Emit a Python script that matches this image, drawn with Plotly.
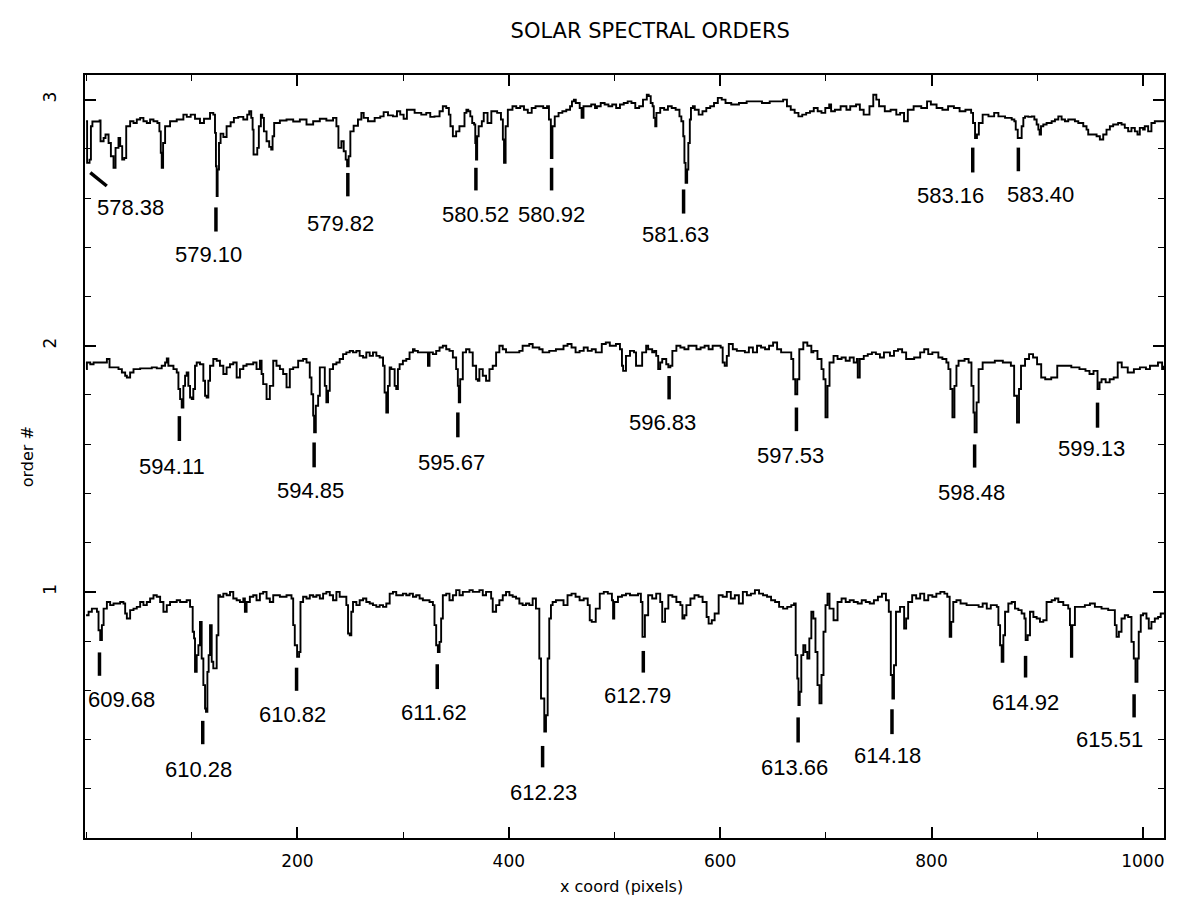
import plotly.graph_objects as go

# Extracted intensity profiles of three echelle orders: (x pixel, order + normalised flux)
order3 = [
    (0, 2.912), (1, 2.743), (3.3, 2.756), (4.6, 2.892), (6, 2.911), (12.8, 2.915), (13.7, 2.831),
    (16.6, 2.844), (18.4, 2.858), (21.3, 2.824), (23.5, 2.770), (26, 2.723), (27.9, 2.804),
    (30.7, 2.844), (32.3, 2.811), (34.2, 2.756), (36.1, 2.763), (38, 2.892), (41.7, 2.912),
    (44.9, 2.905), (48, 2.919), (51.2, 2.926), (54.3, 2.912), (57.5, 2.905), (60.6, 2.919),
    (63.8, 2.912), (67.5, 2.905), (69.4, 2.871), (70.7, 2.784), (71.6, 2.723), (72.9, 2.824),
    (74.8, 2.892), (79.5, 2.912), (85.8, 2.919), (92.1, 2.939), (95.3, 2.930), (99, 2.939),
    (103.1, 2.922), (107.8, 2.905), (111.6, 2.922), (117.3, 2.946), (120.4, 2.939), (122, 2.865),
    (122.9, 2.729), (123.6, 2.608), (124.5, 2.716), (125.8, 2.824), (127.3, 2.862), (129.9, 2.848),
    (133, 2.892), (136.8, 2.908), (139.9, 2.926), (144, 2.930), (148.8, 2.919), (152.5, 2.939),
    (154.4, 2.953), (156.3, 2.926), (157.6, 2.878), (158.5, 2.777), (160.7, 2.777), (162, 2.804),
    (163.5, 2.892), (165.4, 2.939), (166.7, 2.926), (168.3, 2.871), (170.8, 2.831), (173.3, 2.808),
    (175.2, 2.797), (176.5, 2.851), (178, 2.905), (183.4, 2.915), (189.7, 2.919), (196, 2.911),
    (202.3, 2.919), (208.6, 2.899), (214.9, 2.912), (221.2, 2.922), (227.4, 2.915), (233.7, 2.926),
    (236.9, 2.892), (238.8, 2.804), (241.6, 2.831), (243.8, 2.790), (245.7, 2.756), (247, 2.729),
    (248.5, 2.770), (250.1, 2.871), (253.2, 2.894), (257.3, 2.919), (260.5, 2.946), (262.7, 2.926),
    (266.8, 2.912), (273.1, 2.926), (278.4, 2.932), (281.6, 2.949), (285.7, 2.936), (290.4, 2.932),
    (294.2, 2.953), (297.3, 2.939), (300.5, 2.922), (303.6, 2.959), (307.7, 2.959), (310.9, 2.946),
    (317.2, 2.939), (321.9, 2.946), (325.7, 2.930), (329.7, 2.932), (334.5, 2.953), (337.6, 2.973),
    (340.8, 2.966), (343.3, 2.939), (344.8, 2.892), (347.1, 2.851), (350.2, 2.871), (353.3, 2.892),
    (356.3, 2.892), (358.1, 2.946), (359.9, 2.959), (361.7, 2.953), (363.6, 2.932), (365.4, 2.905),
    (367.2, 2.899), (368.3, 2.824), (369.0, 2.756), (370.1, 2.851), (371.5, 2.892), (374.5, 2.912),
    (376.3, 2.946), (379.9, 2.905), (383.5, 2.953), (387.2, 2.953), (389.0, 2.946), (392.6, 2.919),
    (394.4, 2.838), (395.5, 2.743), (397.0, 2.892), (399.1, 2.959), (403.5, 2.973), (407.1, 2.966),
    (410.8, 2.973), (414.4, 2.959), (418.0, 2.946), (421.7, 2.966), (425.3, 2.973), (428.9, 2.973),
    (432.6, 2.966), (436.2, 2.973), (438.0, 2.919), (439.8, 2.763), (441.3, 2.892), (443.5, 2.932),
    (447.1, 2.946), (450.7, 2.953), (454.4, 2.959), (458.0, 2.973), (459.8, 2.993), (461.6, 3.000),
    (463.4, 2.986), (467.1, 2.966), (468.9, 2.926), (470.7, 2.973), (472.5, 2.973), (478.0, 2.980),
    (481.6, 2.966), (483.4, 2.973), (487.0, 2.986), (490.7, 2.980), (494.3, 2.973), (497.9, 2.980),
    (501.6, 2.966), (505.2, 2.980), (508.8, 2.986), (512.5, 2.993), (516.1, 2.986), (519.7, 2.966),
    (523.4, 2.973), (527.0, 3.000), (530.6, 3.020), (532.4, 3.014), (534.3, 2.986), (536.1, 2.973),
    (537.2, 2.926), (538.6, 2.892), (539.7, 2.946), (543.3, 2.966), (547.0, 2.959), (550.6, 2.973),
    (554.2, 2.966), (557.9, 2.959), (561.5, 2.932), (563.3, 2.912), (565.1, 2.851), (566.2, 2.743),
    (567.3, 2.662), (568.8, 2.716), (569.9, 2.824), (571.3, 2.919), (572.4, 2.966), (574.2, 2.973),
    (576.0, 2.959), (579.7, 2.939), (583.3, 2.953), (586.9, 2.966), (590.6, 2.973), (594.2, 2.986),
    (597.8, 3.007), (601.5, 3.000), (605.1, 2.986), (610.5, 2.980), (617.8, 2.986), (625.1, 2.993),
    (632.3, 2.993), (639.6, 2.986), (646.9, 2.993), (654.1, 2.993), (659.6, 3.000), (663.2, 2.973),
    (666.8, 2.959), (670.5, 2.946), (674.1, 2.932), (677.7, 2.939), (681.4, 2.946), (685.0, 2.953),
    (688.6, 2.966), (692.3, 2.953), (695.9, 2.946), (699.5, 2.966), (703.2, 2.980), (705.0, 2.953),
    (708.6, 2.959), (714.0, 2.973), (719.5, 2.959), (723.1, 2.973), (728.6, 2.980), (732.2, 2.959),
    (735.8, 2.939), (741.3, 2.973), (744.9, 3.020), (747.8, 3.000), (750.4, 2.973), (755.8, 2.953),
    (761.3, 2.959), (766.7, 2.939), (770.3, 2.946), (774.0, 2.912), (777.6, 2.959), (783.1, 2.973),
    (790.3, 2.966), (795.8, 2.993), (799.4, 2.980), (804.8, 2.966), (810.3, 2.959), (815.7, 2.973),
    (821.2, 2.966), (826.6, 2.953), (832.1, 2.959), (837.5, 2.946), (839.3, 2.905), (841.2, 2.844),
    (843.0, 2.858), (844.8, 2.905), (848.4, 2.939), (853.9, 2.932), (859.3, 2.946), (863.3, 2.932),
    (869.6, 2.926), (875.9, 2.919), (878.4, 2.912), (879.7, 2.878), (881.6, 2.844), (883.8, 2.844),
    (885.3, 2.892), (886.9, 2.926), (888.5, 2.932), (891.6, 2.930), (894.8, 2.932), (897.3, 2.919),
    (899.5, 2.899), (901.1, 2.878), (902.3, 2.858), (903.6, 2.892), (905.8, 2.899), (908.9, 2.905),
    (913.7, 2.912), (916.8, 2.919), (920.0, 2.932), (923.1, 2.919), (926.3, 2.912), (929.4, 2.919),
    (932.6, 2.919), (935.7, 2.912), (938.9, 2.905), (943.6, 2.892), (946.7, 2.878), (948.3, 2.858),
    (951.4, 2.858), (956.2, 2.851), (959.3, 2.838), (962.5, 2.858), (965.6, 2.878), (968.8, 2.892),
    (971.9, 2.899), (976.6, 2.905), (979.8, 2.899), (982.9, 2.885), (986.1, 2.871), (989.2, 2.885),
    (992.4, 2.871), (994.9, 2.858), (997.1, 2.885), (1000.2, 2.878), (1001.8, 2.892), (1005.0, 2.871),
    (1008.1, 2.905), (1011.3, 2.912), (1014.4, 2.912), (1020, 2.915),
]

order2 = [
    (0, 1.905), (0.8, 1.932), (4.0, 1.925), (7.1, 1.932), (11.8, 1.932), (16.6, 1.932), (19.7, 1.946),
    (22.2, 1.912), (26.0, 1.912), (30.7, 1.905), (33.9, 1.891), (37.0, 1.878), (38.6, 1.871),
    (41.7, 1.891), (44.9, 1.905), (51.2, 1.908), (57.5, 1.908), (62.2, 1.912), (66.9, 1.908),
    (71.6, 1.919), (74.8, 1.932), (76.4, 1.948), (77.9, 1.919), (82.7, 1.905), (85.8, 1.891),
    (87.4, 1.824), (89.0, 1.783), (90.5, 1.749), (92.1, 1.837), (93.7, 1.878), (95.2, 1.891),
    (96.8, 1.837), (98.4, 1.790), (100.0, 1.783), (101.5, 1.824), (103.1, 1.919), (104.7, 1.932),
    (107.8, 1.925), (111.0, 1.858), (112.6, 1.797), (114.1, 1.790), (115.7, 1.858), (117.3, 1.919),
    (120.4, 1.946), (123.6, 1.939), (126.7, 1.919), (129.9, 1.885), (133.0, 1.912), (136.2, 1.925),
    (139.3, 1.932), (142.5, 1.871), (145.6, 1.905), (148.8, 1.919), (151.9, 1.925), (155.0, 1.925),
    (158.2, 1.932), (161.3, 1.905), (164.5, 1.939), (166.1, 1.885), (167.6, 1.844), (170.8, 1.783),
    (173.9, 1.837), (177.1, 1.939), (180.2, 1.919), (183.4, 1.905), (186.5, 1.885), (189.7, 1.831),
    (192.8, 1.905), (196.0, 1.912), (200.7, 1.939), (205.4, 1.946), (208.6, 1.932), (211.7, 1.871),
    (213.3, 1.803), (214.9, 1.716), (215.8, 1.648), (217.4, 1.756), (219.6, 1.797), (221.2, 1.912),
    (224.3, 1.912), (225.9, 1.837), (227.4, 1.770), (229.0, 1.817), (230.6, 1.905), (233.7, 1.925),
    (236.9, 1.932), (240.0, 1.946), (243.2, 1.966), (246.3, 1.973), (249.5, 1.979), (252.6, 1.973),
    (255.8, 1.979), (258.9, 1.959), (262.1, 1.952), (265.2, 1.973), (268.4, 1.959), (271.5, 1.973),
    (274.7, 1.959), (277.8, 1.952), (281.0, 1.919), (282.5, 1.810), (284.1, 1.729), (285.7, 1.837),
    (287.3, 1.912), (288.8, 1.905), (292.0, 1.837), (293.5, 1.824), (295.1, 1.905), (296.7, 1.925),
    (299.8, 1.939), (303.0, 1.946), (306.1, 1.973), (309.3, 1.986), (310.9, 1.979), (314.0, 1.973),
    (321.9, 1.973), (323.5, 1.919), (325.0, 1.973), (328.2, 1.966), (331.3, 1.979), (334.5, 1.993),
    (337.6, 2.000), (340.8, 1.986), (343.9, 1.979), (347.1, 1.952), (350.2, 1.905), (351.8, 1.837),
    (352.7, 1.770), (354.0, 1.864), (356.5, 1.973), (359.6, 1.986), (362.8, 1.973), (365.9, 1.919),
    (369.1, 1.864), (370.7, 1.858), (372.2, 1.905), (375.4, 1.878), (378.5, 1.858), (381.7, 1.905),
    (384.8, 1.919), (388.0, 1.973), (391.1, 2.000), (394.3, 1.986), (397.4, 1.973), (403.7, 1.973),
    (410.0, 1.979), (413.1, 2.000), (419.4, 2.007), (422.6, 1.993), (428.9, 1.986), (432.0, 1.973),
    (438.3, 1.979), (444.6, 1.986), (451.8, 2.000), (455.6, 2.007), (459.4, 1.993), (463.2, 1.973),
    (467.0, 1.979), (470.9, 1.993), (474.7, 1.979), (478.5, 1.986), (482.3, 1.973), (488.0, 2.007),
    (491.8, 2.013), (495.6, 2.000), (501.4, 2.007), (505.2, 1.986), (507.1, 1.919), (508.2, 1.898),
    (510.9, 1.959), (514.7, 1.979), (518.5, 1.973), (520.4, 1.919), (524.3, 1.919), (526.2, 1.973),
    (530.0, 2.000), (531.9, 1.986), (535.7, 1.973), (537.6, 1.979), (539.5, 1.959), (541.4, 1.905),
    (543.3, 1.932), (545.2, 1.946), (549.0, 1.925), (551.0, 1.912), (552.9, 1.919), (554.8, 1.979),
    (558.6, 2.000), (562.4, 1.993), (566.2, 1.986), (570.0, 2.000), (577.6, 1.986), (581.5, 1.993),
    (585.3, 2.000), (589.1, 1.986), (592.9, 2.000), (600.5, 1.993), (602.4, 1.932), (604.3, 1.919),
    (606.3, 1.959), (608.2, 2.007), (612.0, 1.986), (615.8, 1.979), (623.4, 1.973), (627.2, 1.993),
    (631.0, 1.973), (634.9, 2.000), (638.7, 1.993), (642.5, 1.986), (646.3, 2.000), (650.1, 2.013),
    (653.9, 1.986), (657.7, 1.973), (665.4, 1.973), (667.3, 1.946), (669.2, 1.864), (671.1, 1.803),
    (673.0, 1.864), (674.9, 1.986), (678.7, 2.013), (682.5, 2.000), (686.3, 1.973), (688.2, 1.979),
    (692.1, 1.946), (695.9, 1.905), (697.8, 1.864), (699.7, 1.709), (701.6, 1.837), (703.5, 1.932),
    (707.3, 1.959), (711.1, 1.946), (714.9, 1.952), (718.8, 1.939), (722.6, 1.952), (726.4, 1.932),
    (729.4, 1.946), (730.2, 1.871), (732.1, 1.946), (735.9, 1.959), (739.7, 1.966), (743.6, 1.973),
    (747.4, 1.966), (751.2, 1.952), (755.0, 1.973), (760.7, 1.959), (764.5, 1.979), (768.3, 1.986),
    (772.2, 1.973), (776.0, 1.946), (783.6, 1.952), (789.3, 1.973), (793.1, 1.986), (796.9, 1.966),
    (800.8, 1.973), (806.5, 1.952), (810.3, 1.946), (814.1, 1.932), (816.0, 1.905), (817.9, 1.824),
    (819.8, 1.709), (821.7, 1.837), (823.6, 1.919), (825.6, 1.939), (831.3, 1.946), (835.1, 1.932),
    (837.8, 1.837), (839.7, 1.729), (840.8, 1.648), (842.7, 1.770), (844.6, 1.905), (848.4, 1.932),
    (859.9, 1.939), (867.5, 1.932), (875.1, 1.919), (878.2, 1.797), (880.9, 1.688), (882.8, 1.824),
    (884.7, 1.919), (888.5, 1.946), (892.3, 1.966), (896.1, 1.952), (899.9, 1.925), (903.8, 1.871),
    (907.6, 1.864), (913.3, 1.871), (919.0, 1.919), (932.3, 1.912), (940.0, 1.905), (945.7, 1.898),
    (949.5, 1.885), (953.3, 1.898), (957.1, 1.824), (959.0, 1.851), (960.9, 1.864), (964.8, 1.851),
    (968.6, 1.864), (972.4, 1.871), (976.2, 1.932), (980.0, 1.912), (985.7, 1.891), (991.5, 1.905),
    (997.2, 1.912), (1002.9, 1.905), (1006.7, 1.919), (1014.3, 1.932), (1018.2, 1.905), (1020, 1.919),
]

order1 = [
    (0, 0.905), (2.4, 0.919), (5.5, 0.932), (10.3, 0.919), (11.8, 0.844), (13.4, 0.804), (15.0, 0.865),
    (16.6, 0.932), (19.7, 0.959), (22.8, 0.946), (26.0, 0.953), (32.3, 0.959), (35.4, 0.953),
    (37.0, 0.912), (38.6, 0.892), (41.7, 0.926), (44.9, 0.932), (48.0, 0.939), (51.2, 0.959),
    (54.3, 0.946), (57.5, 0.959), (60.6, 0.973), (63.8, 0.986), (66.9, 0.980), (70.1, 0.959),
    (73.2, 0.919), (76.4, 0.946), (79.5, 0.959), (85.8, 0.966), (89.0, 0.959), (95.2, 0.966),
    (98.4, 0.939), (100.9, 0.838), (102.2, 0.811), (103.1, 0.675), (104.7, 0.743), (106.3, 0.783),
    (107.8, 0.878), (109.4, 0.729), (111.0, 0.621), (112.6, 0.526), (113.5, 0.513), (114.8, 0.675),
    (116.0, 0.743), (117.3, 0.865), (118.9, 0.716), (120.4, 0.689), (122.0, 0.689), (123.6, 0.824),
    (125.2, 0.986), (126.7, 0.980), (129.9, 0.993), (133.0, 0.986), (136.2, 1.000), (139.3, 0.973),
    (142.5, 0.966), (145.6, 0.959), (148.8, 0.973), (150.3, 0.919), (151.9, 0.959), (155.0, 0.980),
    (158.2, 0.986), (161.3, 0.966), (164.5, 0.993), (167.6, 1.000), (170.8, 0.973), (173.9, 0.959),
    (177.1, 0.986), (183.4, 0.980), (189.7, 0.986), (194.4, 0.973), (196.0, 0.865), (197.5, 0.783),
    (199.7, 0.736), (201.6, 0.756), (202.9, 0.959), (205.4, 0.980), (208.6, 0.973), (211.7, 0.986),
    (214.9, 0.980), (218.0, 0.986), (221.2, 0.973), (224.3, 0.993), (227.4, 1.000), (230.6, 0.986),
    (233.7, 0.966), (236.9, 1.000), (240.0, 0.980), (246.3, 0.946), (247.9, 0.831), (249.5, 0.824),
    (251.0, 0.919), (252.6, 0.959), (255.8, 0.946), (258.9, 0.966), (262.1, 0.973), (265.2, 0.959),
    (268.4, 0.953), (271.5, 0.946), (274.7, 0.939), (277.8, 0.946), (281.0, 0.939), (284.1, 0.953),
    (287.3, 0.993), (290.4, 1.000), (293.5, 0.986), (299.8, 0.993), (303.0, 0.986), (306.1, 0.993),
    (309.3, 0.980), (312.4, 0.986), (315.6, 0.973), (318.7, 0.966), (325.0, 0.959), (328.2, 0.946),
    (329.7, 0.865), (331.3, 0.783), (332.9, 0.756), (334.5, 0.797), (336.0, 0.892), (337.6, 0.986),
    (340.8, 0.993), (343.9, 0.966), (347.1, 0.986), (350.2, 1.007), (353.4, 0.986), (356.5, 1.000),
    (362.8, 1.007), (365.9, 1.000), (372.2, 1.007), (375.4, 0.986), (378.5, 1.000), (383.3, 0.973),
    (384.8, 0.919), (388.0, 0.946), (391.1, 0.966), (394.3, 0.986), (397.4, 1.000), (400.6, 0.986),
    (403.7, 0.980), (406.9, 0.973), (410.0, 0.953), (413.1, 0.946), (416.3, 0.953), (419.4, 0.946),
    (422.6, 0.973), (425.7, 0.932), (428.9, 0.729), (430.5, 0.567), (433.6, 0.432), (435.2, 0.499),
    (436.8, 0.729), (438.3, 0.892), (439.9, 0.946), (441.5, 0.959), (444.6, 0.966), (451.8, 0.946),
    (455.6, 0.986), (459.4, 0.993), (463.2, 0.980), (467.0, 0.966), (470.9, 0.973), (474.7, 0.946),
    (476.6, 0.885), (478.5, 0.878), (482.3, 0.932), (486.1, 0.993), (489.9, 1.000), (493.7, 0.993),
    (497.6, 0.966), (498.7, 0.892), (499.8, 0.959), (503.3, 0.980), (507.1, 0.986), (510.9, 0.993),
    (514.7, 0.986), (522.3, 0.993), (525.0, 0.959), (526.5, 0.817), (528.8, 0.905), (531.9, 0.986),
    (535.7, 0.973), (539.5, 0.993), (543.3, 0.959), (545.2, 0.878), (547.9, 0.932), (551.0, 0.986),
    (554.8, 0.980), (558.6, 0.959), (562.4, 0.946), (564.3, 0.892), (566.2, 0.905), (568.1, 0.946),
    (571.9, 0.973), (575.7, 0.986), (579.6, 0.980), (583.4, 0.959), (587.2, 0.898), (589.1, 0.871),
    (592.1, 0.885), (594.8, 0.912), (598.6, 0.986), (602.4, 0.980), (606.3, 1.000), (610.1, 0.973),
    (613.9, 0.986), (617.7, 0.953), (621.5, 1.000), (625.3, 0.986), (629.1, 0.993), (632.9, 1.007),
    (636.8, 0.993), (640.6, 0.986), (644.4, 0.980), (648.2, 0.966), (652.0, 0.959), (655.8, 0.939),
    (659.6, 0.932), (663.5, 0.939), (667.3, 0.946), (669.9, 0.953), (671.5, 0.743), (673.0, 0.648),
    (674.1, 0.540), (675.3, 0.594), (676.8, 0.743), (678.7, 0.783), (680.6, 0.756), (682.5, 0.729),
    (684.4, 0.811), (686.3, 0.919), (688.2, 0.892), (690.2, 0.756), (692.1, 0.621), (694.0, 0.547),
    (695.9, 0.662), (697.8, 0.838), (699.7, 0.946), (701.6, 0.993), (703.5, 0.932), (707.3, 0.885),
    (711.1, 0.959), (714.9, 0.973), (718.8, 0.959), (722.6, 0.966), (726.4, 0.959), (730.2, 0.953),
    (734.0, 0.966), (737.8, 0.959), (741.6, 0.953), (745.5, 0.966), (749.3, 0.980), (753.1, 0.993),
    (756.9, 0.966), (759.6, 0.919), (761.5, 0.662), (763.0, 0.567), (764.5, 0.702), (766.4, 0.919),
    (770.2, 0.939), (774.1, 0.851), (776.0, 0.892), (777.9, 0.959), (781.7, 0.986), (785.5, 0.973),
    (789.3, 0.993), (793.1, 0.966), (796.9, 0.986), (800.8, 0.980), (804.6, 0.993), (808.4, 1.000),
    (812.2, 0.993), (814.9, 0.980), (817.2, 0.817), (818.7, 0.878), (820.6, 0.959), (823.6, 0.966),
    (827.5, 0.953), (833.2, 0.946), (844.6, 0.939), (848.4, 0.953), (852.3, 0.932), (856.1, 0.946),
    (861.8, 0.939), (863.3, 0.865), (864.9, 0.783), (866.4, 0.716), (868.0, 0.824), (869.6, 0.919),
    (872.7, 0.953), (875.9, 0.959), (879.0, 0.932), (882.2, 0.926), (885.3, 0.912), (887.9, 0.892),
    (889.1, 0.804), (891.0, 0.824), (893.2, 0.919), (896.4, 0.898), (899.5, 0.892), (902.6, 0.878),
    (905.8, 0.885), (908.9, 0.959), (913.7, 0.966), (916.8, 0.973), (920.0, 0.959), (924.7, 0.946),
    (929.4, 0.932), (931.0, 0.865), (931.9, 0.736), (933.2, 0.865), (935.7, 0.939), (945.1, 0.946),
    (949.9, 0.953), (954.6, 0.939), (960.9, 0.932), (967.2, 0.926), (971.9, 0.926), (973.5, 0.865),
    (975.1, 0.817), (977.3, 0.838), (979.8, 0.892), (982.9, 0.905), (986.1, 0.898), (989.2, 0.797),
    (991.4, 0.729), (993.0, 0.635), (994.9, 0.729), (996.1, 0.838), (998.0, 0.905), (1000.2, 0.912),
    (1003.4, 0.892), (1005.6, 0.851), (1008.1, 0.878), (1011.3, 0.892), (1014.4, 0.898),
    (1016.9, 0.912), (1020, 0.912),
]

# Identified lines: wavelength (nm), marker x ends, marker y ends, text anchor (x, y)
line_names = [
    "578.38", "579.10", "579.82", "580.52", "580.92", "581.63", "583.16", "583.40",
    "594.11", "594.85", "595.67", "596.83", "597.53", "598.48", "599.13",
    "609.68", "610.28", "610.82", "611.62", "612.23", "612.79", "613.66", "614.18", "614.92", "615.51",
]
marker_x0 = [4.0, 122.9, 247.7, 368.9, 440.5, 565.4, 839.0, 882.2,
             88.3, 215.8, 351.8, 551.7, 672.2, 840.8, 957.1,
             12.7, 110.4, 199.2, 332.3, 432.0, 527.3, 673.8, 762.6, 889.0, 991.7]
marker_x1 = [19.6, 122.9, 247.7, 368.9, 440.5, 565.4, 839.0, 882.2,
             88.3, 215.8, 351.8, 551.7, 672.2, 840.8, 957.1,
             12.7, 110.4, 199.2, 332.3, 432.0, 527.3, 673.8, 762.6, 889.0, 991.7]
marker_y0 = [2.703, 2.562, 2.702, 2.723, 2.723, 2.635, 2.805, 2.805,
             1.714, 1.607, 1.729, 1.877, 1.749, 1.599, 1.769,
             0.754, 0.476, 0.692, 0.706, 0.374, 0.760, 0.490, 0.523, 0.740, 0.584]
marker_y1 = [2.649, 2.464, 2.607, 2.631, 2.631, 2.537, 2.704, 2.709,
             1.613, 1.506, 1.628, 1.782, 1.653, 1.505, 1.667,
             0.659, 0.381, 0.598, 0.605, 0.287, 0.672, 0.388, 0.422, 0.652, 0.490]
name_x = [41.7, 116.3, 240.8, 368.5, 440.0, 557.8, 818.4, 903.4,
          81.1, 212.5, 345.5, 545.0, 666.3, 837.8, 951.4,
          33.9, 106.2, 195.2, 328.8, 432.7, 521.4, 670.0, 758.8, 888.5, 968.7]
name_y = [2.562, 2.370, 2.498, 2.533, 2.533, 2.450, 2.612, 2.614,
          1.508, 1.410, 1.526, 1.687, 1.555, 1.403, 1.583,
          0.564, 0.280, 0.503, 0.510, 0.186, 0.577, 0.287, 0.334, 0.551, 0.402]

fig = go.Figure()

for profile in (order3, order2, order1):
    xs, ys = zip(*profile)
    fig.add_trace(go.Scatter(
        x=xs, y=ys, mode="lines",
        line=dict(color="black", width=1.9, shape="hv"),
        hoverinfo="skip", showlegend=False,
    ))

mx, my = [], []
for x0, x1, y0, y1 in zip(marker_x0, marker_x1, marker_y0, marker_y1):
    mx += [x0, x1, None]
    my += [y0, y1, None]
fig.add_trace(go.Scatter(
    x=mx, y=my, mode="lines",
    line=dict(color="black", width=3.5),
    hoverinfo="skip", showlegend=False,
))

label_font = dict(family="Liberation Sans, Arial, sans-serif", size=22, color="black")
for name, tx, ty in zip(line_names, name_x, name_y):
    fig.add_annotation(x=tx, y=ty, text=name, showarrow=False,
                       xanchor="center", yanchor="middle", font=label_font)

tick_font = dict(family="DejaVu Sans, sans-serif", size=17, color="black")
axis_font = dict(family="DejaVu Sans, sans-serif", size=16, color="black")

fig.add_annotation(xref="paper", yref="paper", x=0.497, y=-0.064,
                   text="x coord (pixels)", showarrow=False,
                   xanchor="center", yanchor="middle", font=axis_font)
fig.add_annotation(xref="paper", yref="paper", x=-0.053, y=0.5,
                   text="order #", showarrow=False, textangle=-90,
                   xanchor="center", yanchor="middle", font=axis_font)

fig.update_layout(
    width=1178, height=921,
    margin=dict(l=85, r=14, t=75, b=83),
    paper_bgcolor="white", plot_bgcolor="white",
    title=dict(text="SOLAR SPECTRAL ORDERS", x=0.552, xanchor="center",
               y=1 - 31 / 921, yanchor="middle",
               font=dict(family="DejaVu Sans, sans-serif", size=21, color="black")),
    showlegend=False,
)

fig.update_xaxes(
    range=[-1, 1020], showgrid=False, zeroline=False,
    showline=True, linecolor="black", linewidth=2, mirror="ticks",
    ticks="inside", ticklen=11, tickwidth=1.5, tickcolor="black",
    tickmode="array", tickvals=[200, 400, 600, 800, 1000],
    minor=dict(tickmode="linear", tick0=0, dtick=100, ticks="inside",
               ticklen=6, tickwidth=1.2, tickcolor="black"),
    tickfont=tick_font, ticklabelstandoff=7,
)
fig.update_yaxes(
    range=[0, 3.1], showgrid=False, zeroline=False,
    showline=True, linecolor="black", linewidth=2, mirror="ticks",
    ticks="inside", ticklen=11, tickwidth=1.5, tickcolor="black",
    tickmode="array", tickvals=[1, 2, 3], tickangle=-90,
    minor=dict(tickmode="linear", tick0=0, dtick=0.2, ticks="inside",
               ticklen=6, tickwidth=1.2, tickcolor="black"),
    tickfont=tick_font, ticklabelstandoff=20,
)

fig.write_html("out.html")
